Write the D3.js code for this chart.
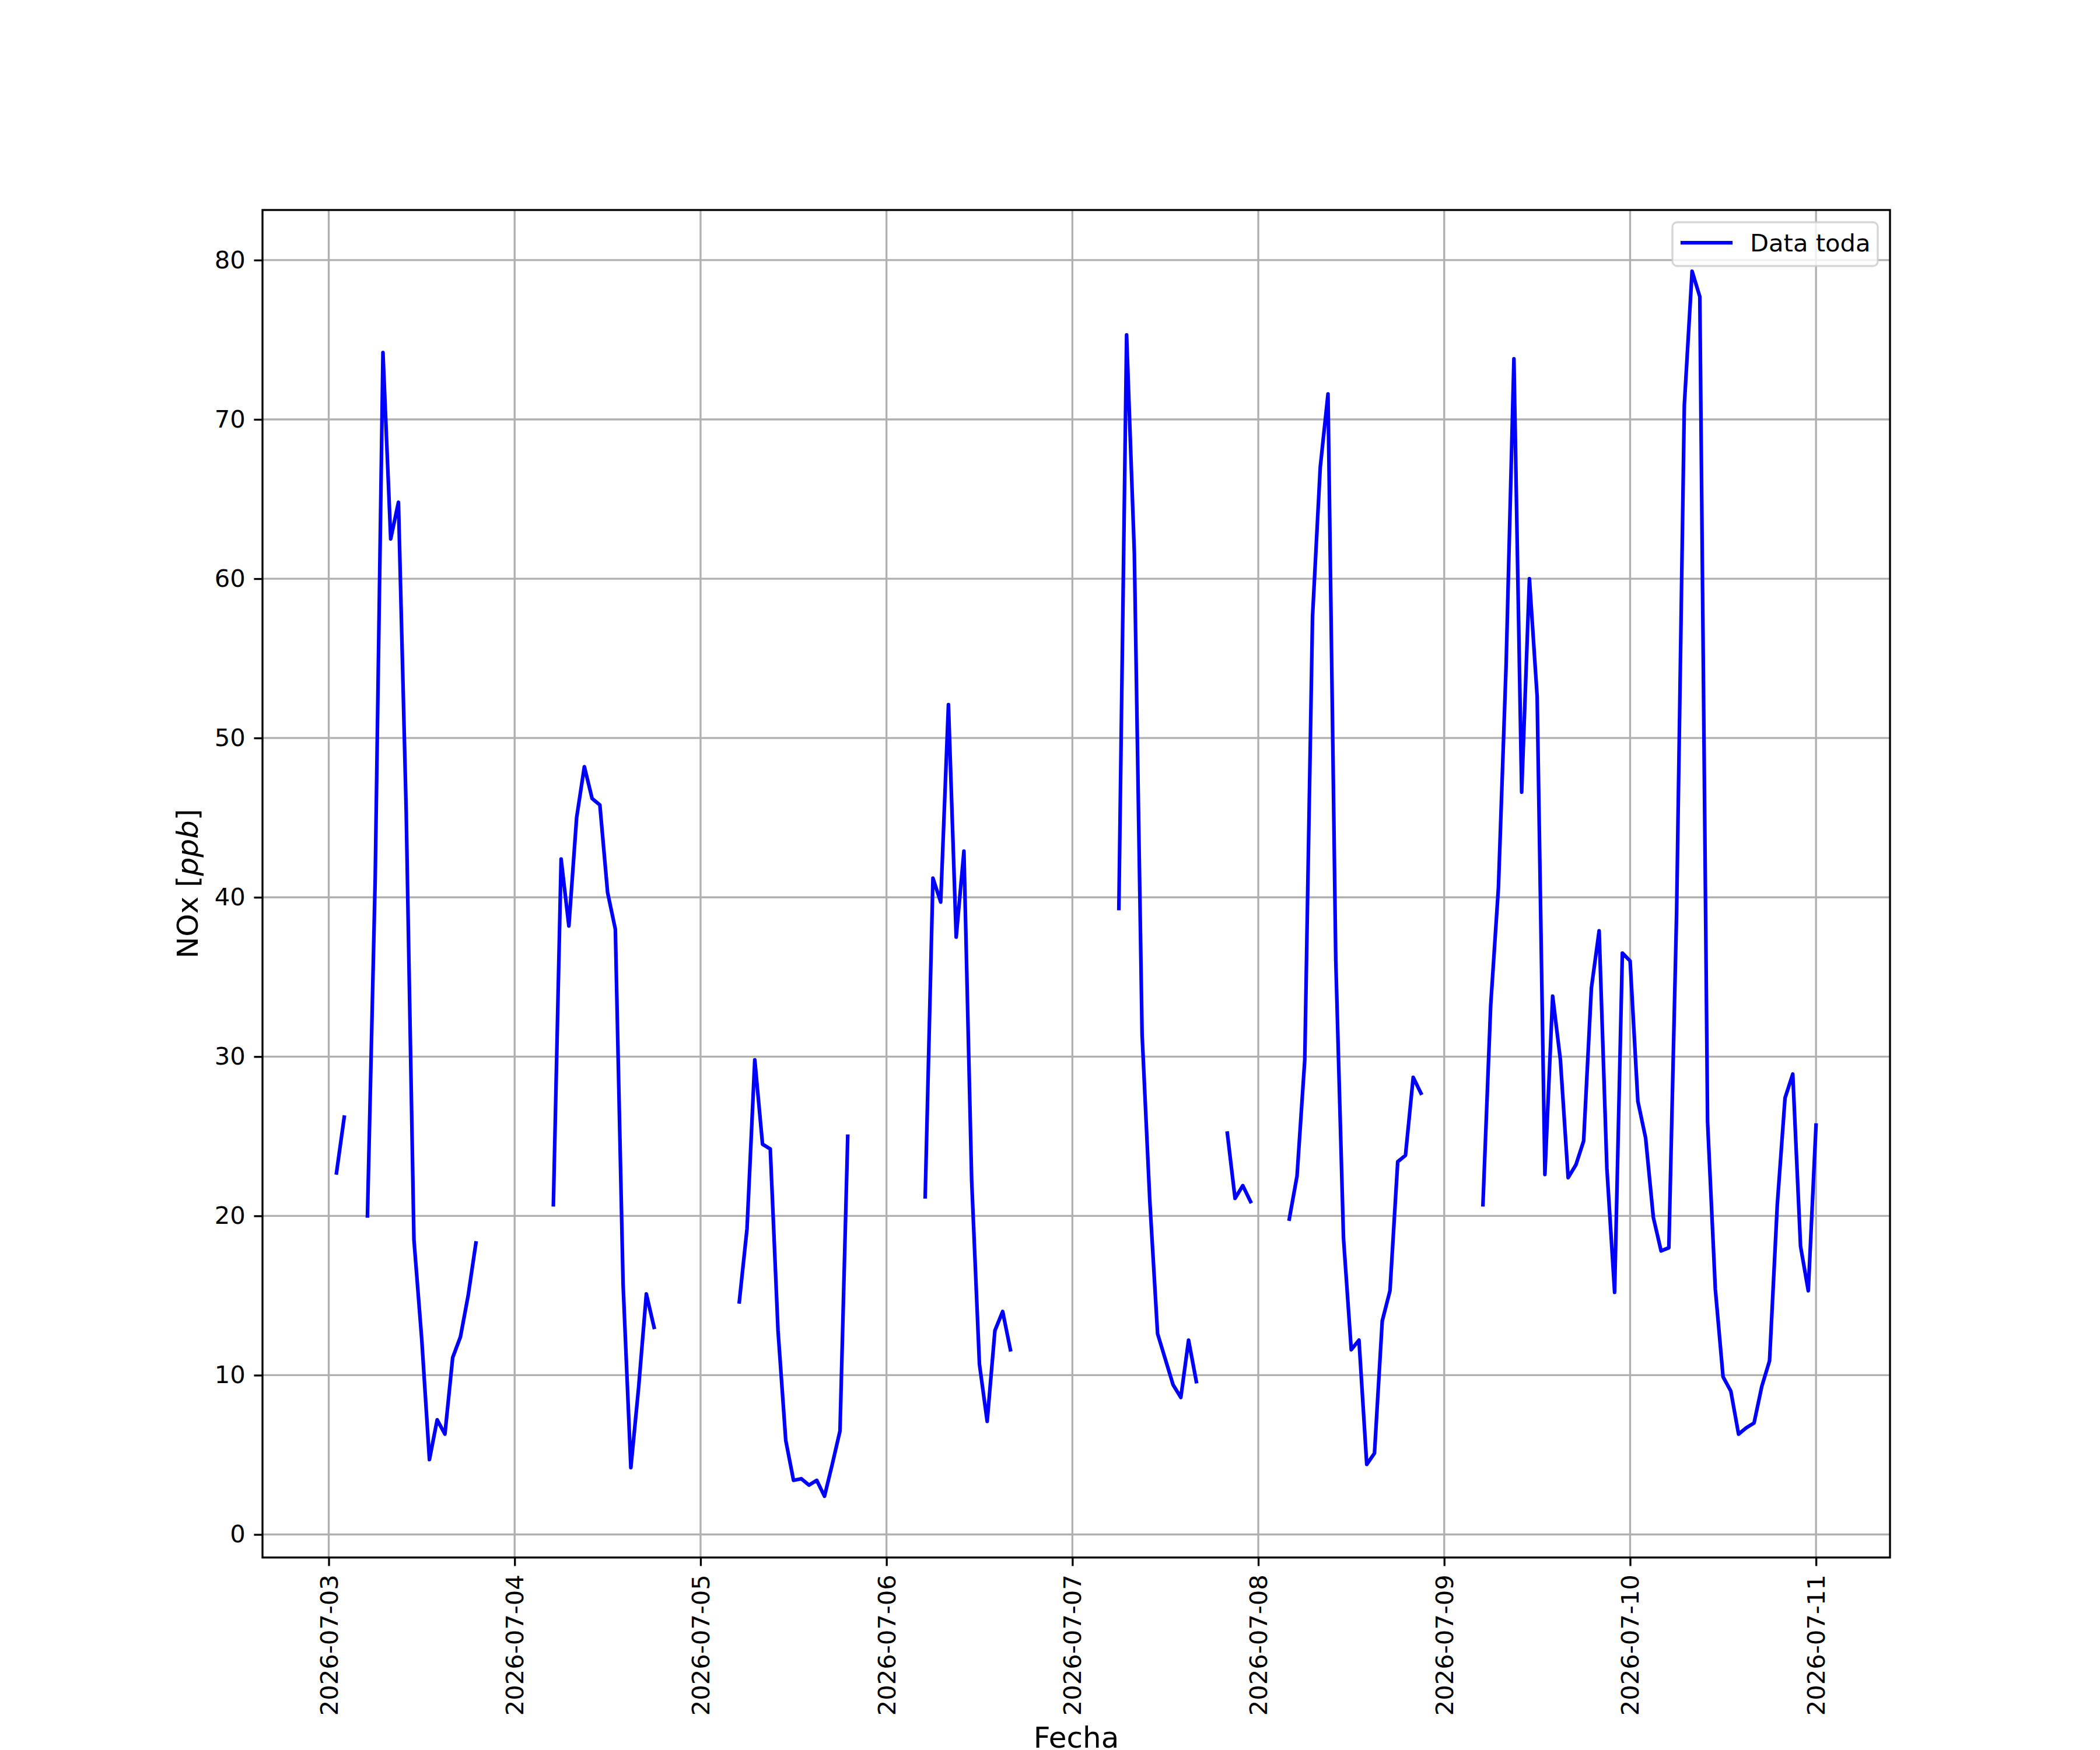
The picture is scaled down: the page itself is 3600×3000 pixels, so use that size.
<!DOCTYPE html>
<html>
<head>
<meta charset="utf-8">
<script src="https://cdn.jsdelivr.net/npm/d3@7"></script>
<style>
  body { margin: 0; background: #fff; }
  svg { display: block; font-family: "DejaVu Sans", sans-serif; }
</style>
</head>
<body>
<div id="chart"></div>
<script>
// hourly NOx [ppb], one array per day (hours 0..23), null = no data
var day0703 = [null, 22.7, 26.2, null, null, 20.0, 41.2, 74.2, 62.5, 64.8, 45.4, 18.5, 12.3, 4.7, 7.2, 6.3, 11.1, 12.4, 15.0, 18.3, null, null, null, null];
var day0704 = [null, null, null, null, null, 20.7, 42.4, 38.2, 45.0, 48.2, 46.2, 45.8, 40.3, 38.0, 15.7, 4.2, 9.2, 15.1, 13.0, null, null, null, null, null];
var day0705 = [null, null, null, null, null, 14.6, 19.2, 29.8, 24.5, 24.2, 12.8, 5.9, 3.4, 3.5, 3.1, 3.4, 2.4, 4.4, 6.5, 25.0, null, null, null, null];
var day0706 = [null, null, null, null, null, 21.2, 41.2, 39.7, 52.1, 37.5, 42.9, 22.2, 10.7, 7.1, 12.8, 14.0, 11.6, null, null, null, null, null, null, null];
var day0707 = [null, null, null, null, null, null, 39.3, 75.3, 61.6, 31.4, 20.9, 12.6, 11.0, 9.4, 8.6, 12.2, 9.6, null, null, null, 25.2, 21.1, 21.9, 20.9];
var day0708 = [null, null, null, null, 19.8, 22.5, 29.8, 57.6, 67.0, 71.6, 36.1, 18.6, 11.6, 12.2, 4.4, 5.1, 13.4, 15.3, 23.4, 23.8, 28.7, 27.7, null, null];
var day0709 = [null, null, null, null, null, 20.7, 33.2, 40.6, 54.7, 73.8, 46.6, 60.0, 52.6, 22.6, 33.8, 29.8, 22.4, 23.2, 24.7, 34.3, 37.9, 23.0, 15.2, 36.5];
var day0710 = [36.0, 27.2, 24.9, 19.9, 17.8, 18.0, 39.0, 70.9, 79.3, 77.7, 25.9, 15.4, 9.9, 9.0, 6.3, 6.7, 7.0, 9.3, 10.9, 20.7, 27.4, 28.9, 18.1, 15.3];
var day0711 = [25.7];

var days = [day0703, day0704, day0705, day0706, day0707, day0708, day0709, day0710, day0711];
var yTicks = [0, 10, 20, 30, 40, 50, 60, 70, 80];
var seriesName = 'Data toda';
var xTitle = 'Fecha';

// flatten to {t, v}
var data = [];
days.forEach(function(vals, d){
	vals.forEach(function(v, h){
		data.push({t: new Date(Date.UTC(2026, 6, 3 + d, h)), v: v});
	});
});
var valid = data.filter(function(p){ return p.v != null; });

var W = 3600, H = 3000,
	axL = 450, axR = 3240, axT = 360, axB = 2670,
	pt = 300 / 72,
	fs = 10 * pt, lfs = 12 * pt,
	tickLen = 3.5 * pt, tickPad = 3.5 * pt, thin = 0.8 * pt;

// matplotlib style 5% margins
var tExt = d3.extent(valid, function(p){ return p.t.getTime(); });
var tPad = (tExt[1] - tExt[0]) * 0.05;
var vExt = d3.extent(valid, function(p){ return p.v; });
var vPad = (vExt[1] - vExt[0]) * 0.05;

var x = d3.scaleUtc()
	.domain([new Date(tExt[0] - tPad), new Date(tExt[1] + tPad)])
	.range([axL, axR]);
var y = d3.scaleLinear()
	.domain([vExt[0] - vPad, vExt[1] + vPad])
	.range([axB, axT]);

var svg = d3.select('#chart').append('svg')
	.attr('width', W)
	.attr('height', H)
	.style('background', '#fff');

var xTicks = d3.utcDay.range(new Date(Date.UTC(2026, 6, 3)), new Date(Date.UTC(2026, 6, 12)));

// grid
var grid = svg.append('g').attr('stroke', '#b0b0b0').attr('stroke-width', thin);
grid.selectAll('.gx').data(xTicks).enter().append('line')
	.attr('x1', function(d){ return x(d); }).attr('x2', function(d){ return x(d); })
	.attr('y1', axT).attr('y2', axB);
grid.selectAll('.gy').data(yTicks).enter().append('line')
	.attr('y1', function(d){ return y(d); }).attr('y2', function(d){ return y(d); })
	.attr('x1', axL).attr('x2', axR);

// line
var line = d3.line()
	.defined(function(d){ return d.v != null; })
	.x(function(d){ return x(d.t); })
	.y(function(d){ return y(d.v); });

svg.append('path')
	.datum(data)
	.attr('d', line)
	.attr('fill', 'none')
	.attr('stroke', 'blue')
	.attr('stroke-width', 1.5 * pt)
	.attr('stroke-linejoin', 'round')
	.attr('stroke-linecap', 'square');

// axes
var gx = svg.append('g')
	.attr('transform', 'translate(0,' + axB + ')')
	.call(d3.axisBottom(x).tickValues(xTicks).tickFormat(d3.utcFormat('%Y-%m-%d'))
		.tickSize(tickLen).tickPadding(tickPad));
gx.selectAll('text')
	.attr('x', 0).attr('y', 0).attr('dy', null)
	.attr('transform', 'translate(0,' + (tickLen + tickPad) + ') rotate(-90)')
	.attr('text-anchor', 'end')
	.attr('dominant-baseline', 'central');

var gy = svg.append('g')
	.attr('transform', 'translate(' + axL + ',0)')
	.call(d3.axisLeft(y).tickValues(yTicks).tickSize(tickLen).tickPadding(tickPad));

[gx, gy].forEach(function(g){
	g.select('.domain').remove();
	g.selectAll('line').attr('stroke', '#000').attr('stroke-width', thin);
	g.selectAll('text').attr('fill', '#000').style('font-size', fs + 'px')
		.style('font-family', '"DejaVu Sans", sans-serif');
});

// spines
svg.append('rect')
	.attr('x', axL).attr('y', axT)
	.attr('width', axR - axL).attr('height', axB - axT)
	.attr('fill', 'none').attr('stroke', '#000').attr('stroke-width', thin);

// axis labels
svg.append('text')
	.attr('x', (axL + axR) / 2).attr('y', 2996)
	.attr('text-anchor', 'middle')
	.style('font-size', lfs + 'px')
	.text(xTitle);

var yl = svg.append('text')
	.attr('transform', 'translate(339,' + ((axT + axB) / 2) + ') rotate(-90)')
	.attr('text-anchor', 'middle')
	.style('font-size', lfs + 'px');
yl.append('tspan').text('NOx [');
yl.append('tspan').style('font-style', 'italic').text('ppb');
yl.append('tspan').text(']');

// legend
var lg = svg.append('g');
lg.append('rect')
	.attr('x', 2867).attr('y', 381)
	.attr('width', 3219 - 2867).attr('height', 456 - 381)
	.attr('rx', 8).attr('ry', 8)
	.attr('fill', '#fff').attr('fill-opacity', 0.8)
	.attr('stroke', '#cccccc').attr('stroke-opacity', 0.8).attr('stroke-width', thin);
lg.append('line')
	.attr('x1', 2884).attr('x2', 2967).attr('y1', 416).attr('y2', 416)
	.attr('stroke', 'blue').attr('stroke-width', 1.5 * pt).attr('stroke-linecap', 'square');
lg.append('text')
	.attr('x', 3000).attr('y', 431)
	.style('font-size', fs + 'px')
	.text(seriesName);
</script>
</body>
</html>
